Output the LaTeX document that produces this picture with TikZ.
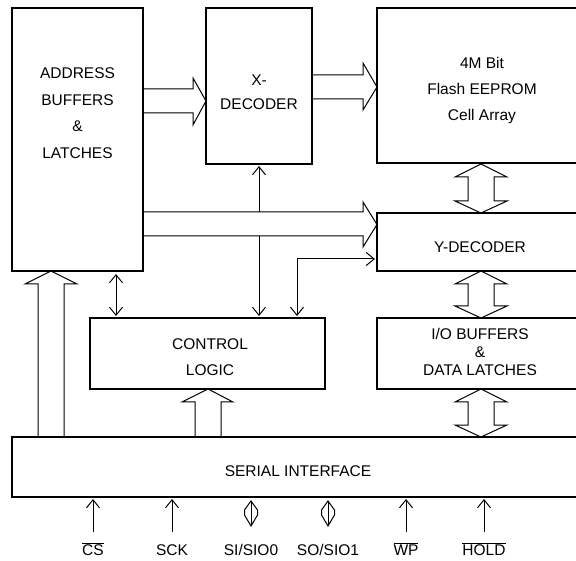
\documentclass[tikz,border=0pt]{standalone}
\usepackage{fontspec}
\setmainfont{Liberation Sans}
\usetikzlibrary{arrows.meta}
\begin{document}
\begin{tikzpicture}[x=1pt,y=-1pt,
  box/.style={draw, line width=2.5pt, anchor=north west, inner sep=0pt, outer sep=0pt},
  lbl/.style={font=\fontsize{15.5}{26.5}\selectfont, align=center, anchor=base, inner sep=0pt},
  thinline/.style={line width=1pt},
  tipend/.style={thinline, -{Straight Barb[length=8pt,width=13pt,line width=1pt]}},
  tipboth/.style={thinline, {Straight Barb[length=8pt,width=13pt,line width=1pt]}-{Straight Barb[length=8pt,width=13pt,line width=1pt]}},
  hollow/.style={line width=1pt, line join=miter}]
\useasboundingbox (0,0) rectangle (576,561);
\clip (0,0) rectangle (576,561);

% boxes
\node[box, minimum width=131pt, minimum height=263pt] (addr) at (12,8) {};
\node[box, minimum width=106pt, minimum height=156pt] (xdec) at (206,8) {};
\node[box, minimum width=215pt, minimum height=155pt] (cell) at (377,8) {};
\node[box, minimum width=215pt, minimum height=58pt] (ydec) at (377,213) {};
\node[box, minimum width=235pt, minimum height=71pt] (ctrl) at (90,318) {};
\node[box, minimum width=215pt, minimum height=71pt] (iob) at (377,318) {};
\node[box, minimum width=580pt, minimum height=60pt] (serial) at (12,437) {};

% labels (base anchor = baseline of last line)
\node[lbl, font=\fontsize{15.5}{26.7}\selectfont] (taddr) at (77.5,158.5) {ADDRESS\\BUFFERS\\\&\\LATCHES};
\node[lbl, font=\fontsize{15.5}{23.7}\selectfont] (txdec) at (259,109.2) {X-\\DECODER};
\node[lbl, font=\fontsize{15.5}{26}\selectfont] (tcell) at (482,120.8) {4M Bit\\Flash EEPROM\\Cell Array};
\node[lbl] (tydec) at (480,252.5) {Y-DECODER};
\node[lbl, font=\fontsize{15.5}{26.5}\selectfont] (tctrl) at (210,375.8) {CONTROL\\LOGIC};
\node[lbl, font=\fontsize{15.5}{18.3}\selectfont] (tiob) at (480,376) {I/O BUFFERS\\\&\\DATA LATCHES};
\node[lbl] (tser) at (298,476.2) {SERIAL INTERFACE};

% pin labels
\node[lbl] (pcs) at (93,555) {$\overline{\mbox{CS}}$};
\node[lbl] (psck) at (172,555) {SCK};
\node[lbl] (psi) at (251,555) {SI/SIO0};
\node[lbl] (pso) at (328,555) {SO/SIO1};
\node[lbl] (pwp) at (406,555) {$\overline{\mbox{WP}}$};
\node[lbl] (phold) at (484,555) {$\overline{\mbox{HOLD}}$};

% hollow arrows
\draw[hollow] (addr.east |- 0,89) -- (193,89) -- (193,78) -- (xdec.west |- 0,101) -- (193,125) -- (193,113) -- (addr.east |- 0,113);
\draw[hollow] (xdec.east |- 0,75) -- (363,75) -- (363,63) -- (cell.west |- 0,87) -- (363,110) -- (363,99) -- (xdec.east |- 0,99);
\draw[hollow] (addr.east |- 0,212) -- (363,212) -- (363,202) -- (ydec.west |- 0,224.5) -- (363,247) -- (363,236) -- (addr.east |- 0,236);
\draw[hollow] (38,437) -- (38,284) -- (25,284) -- (51,271) -- (77,284) -- (64,284) -- (64,437);
\draw[hollow] (195,437) -- (195,402) -- (182,402) -- (208,389) -- (233,402) -- (221,402) -- (221,437);
\draw[hollow] (481,164) -- (507,177) -- (494,177) -- (494,201) -- (507,201) -- (481,213) -- (455,201) -- (468,201) -- (468,177) -- (455,177) -- cycle;
\draw[hollow] (481,271) -- (507,284) -- (494,284) -- (494,306) -- (507,306) -- (481,318) -- (455,306) -- (468,306) -- (468,284) -- (455,284) -- cycle;
\draw[hollow] (481,389) -- (507,402) -- (494,402) -- (494,425) -- (507,425) -- (481,437) -- (455,425) -- (468,425) -- (468,402) -- (455,402) -- cycle;

% thin arrows
\draw[tipend] (xdec.south |- 0,212) -- (259,166);
\draw[tipend] (259,236) -- (259,316);
\draw[tipboth] (297,316) -- (297,259) -- (375,259);
\draw[tipboth] (116,274) -- (116,316);

% pin arrows
\foreach \p in {pcs,psck,pwp,phold}{
  \draw[tipend] (\p.base |- 0,532) -- (\p.base |- 0,499);
}
\foreach \p in {psi,pso}{
  \draw[thinline, line join=miter] (\p.base |- 0,501) -- ++(-6.5,9) -- ++(0,5) -- ++(6.5,11) -- ++(6.5,-11) -- ++(0,-5) -- cycle;
  \draw[thinline] (\p.base |- 0,501) -- (\p.base |- 0,526);
}
\end{tikzpicture}
\end{document}
